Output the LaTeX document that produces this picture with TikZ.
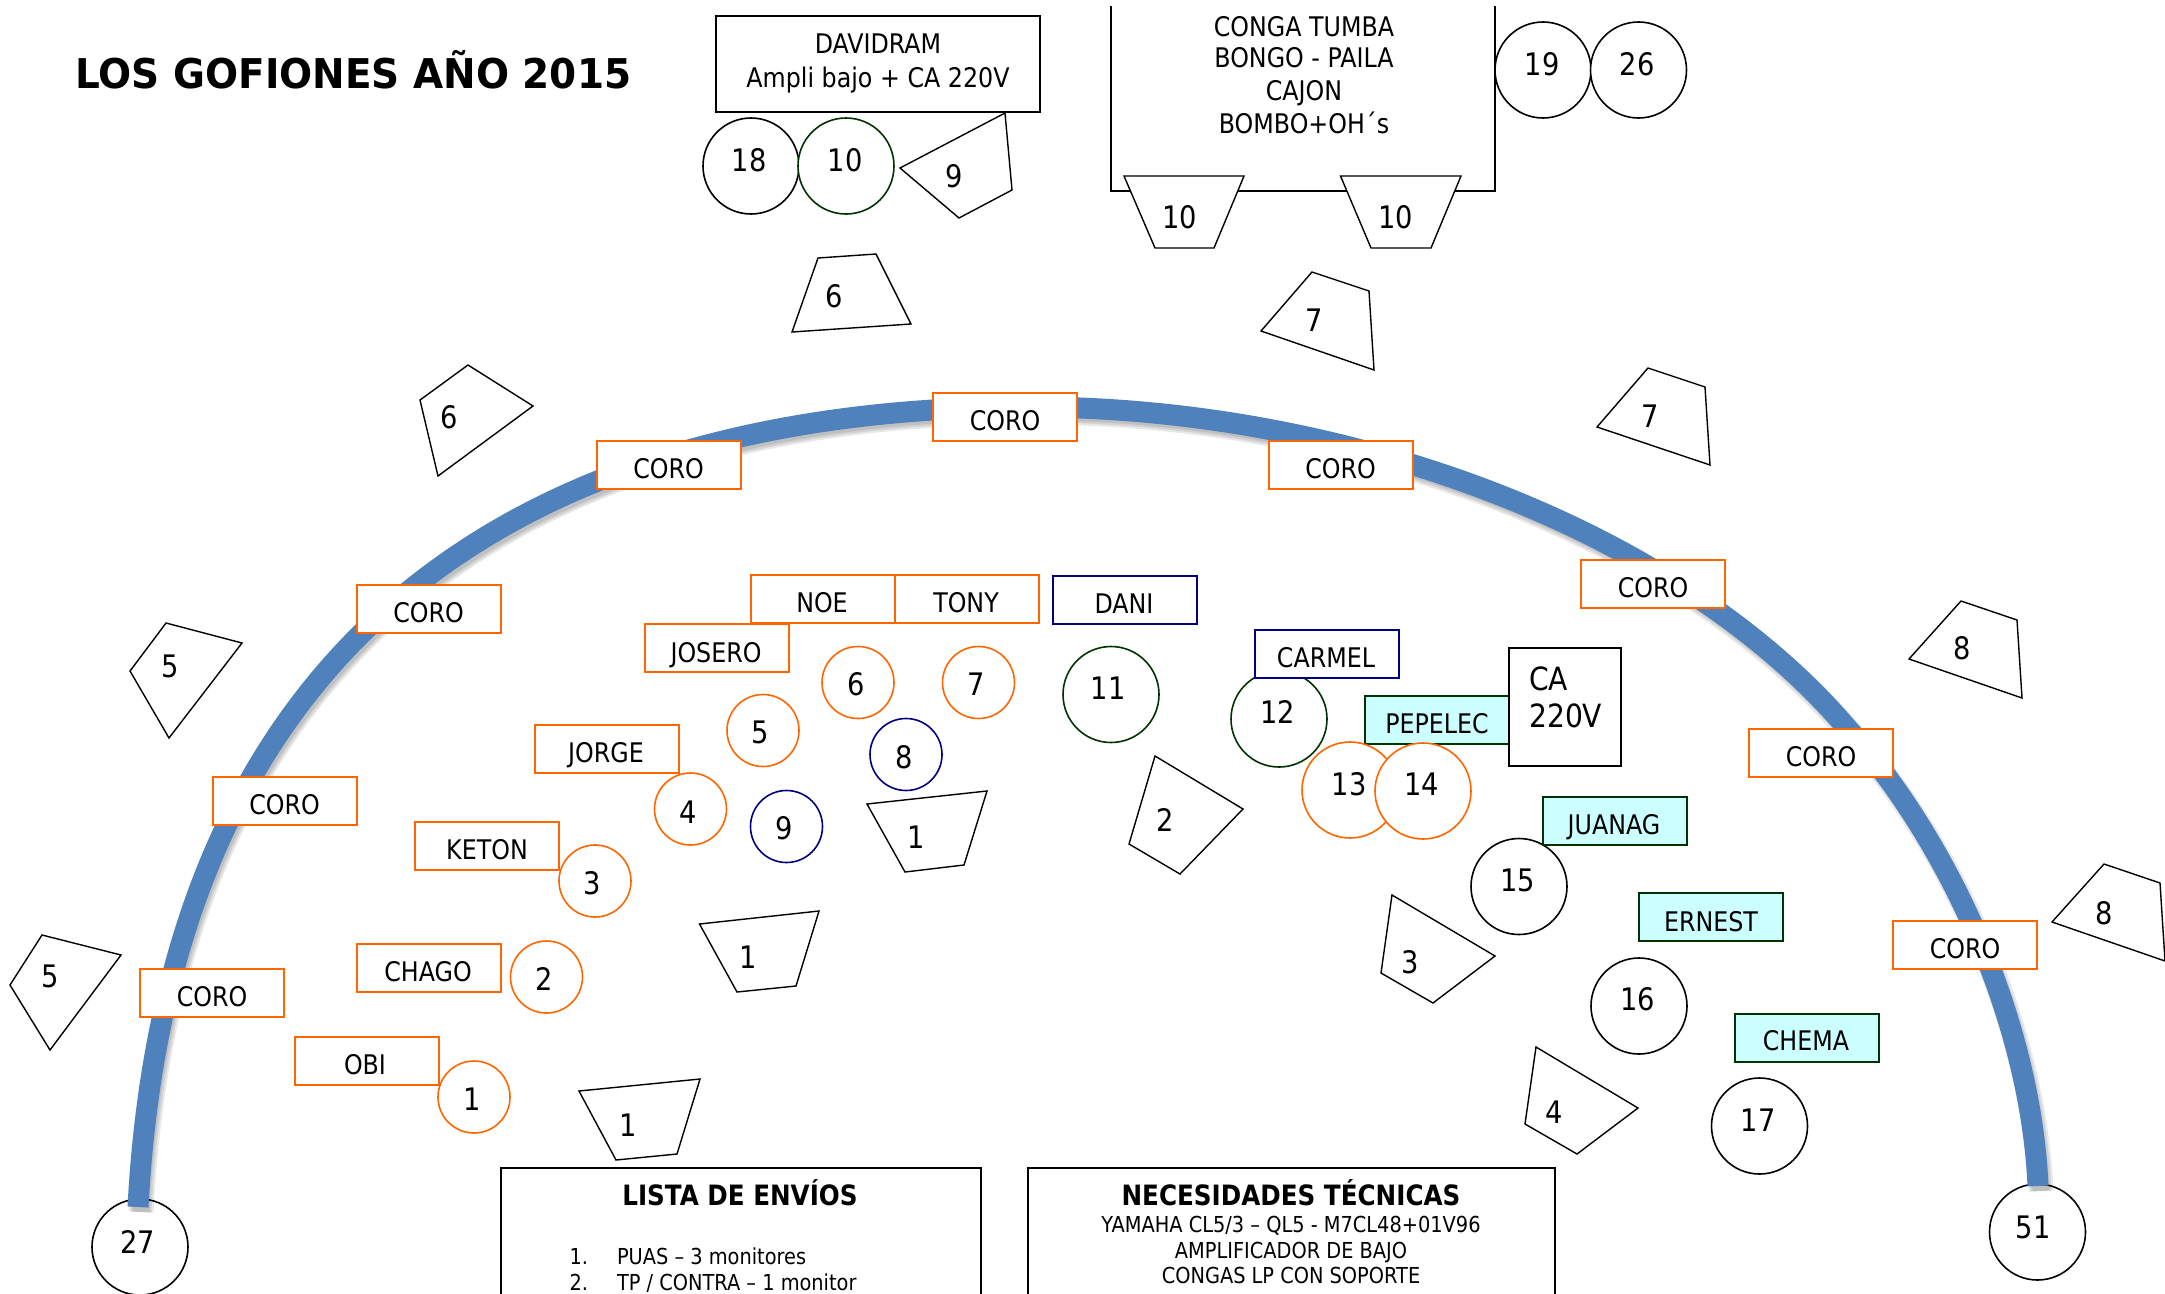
\documentclass[tikz,border=0pt]{standalone}
\usepackage{fontspec}
\setmainfont[FakeStretch=0.88]{DejaVu Sans}
\newfontfamily\widefont[FakeStretch=0.95]{DejaVu Sans}
\tikzset{
 x=1pt,y=-1pt,
 base/.style={inner sep=0pt,outer sep=0pt,font=\fontsize{27}{32}\selectfont},
 rbox/.style={draw,fill=white,line width=2pt,minimum width=#1,minimum height=48pt,inner sep=0pt},
 rbox/.default=144pt,
 oran/.style={rbox,draw=orangeC},
 navyb/.style={rbox,draw=navyC},
 aqua/.style={rbox,draw=greenC,fill=aquaC},
 circ/.style={circle,draw,fill=white,line width=1.6pt,minimum size=#1,inner sep=0pt},
 big/.style={circ=96pt},
 small/.style={circ=72pt},
 quad/.style={draw=black,line width=1.4pt,line join=miter,fill=white},
 lab/.style={base,text height=20pt,text depth=0pt},
 num/.style={inner sep=0pt,outer sep=0pt,font=\fontsize{31}{36}\selectfont,text height=23pt,text depth=0pt},
 small text/.style={inner sep=0pt,outer sep=0pt,font=\fontsize{22}{26}\selectfont,text height=16pt,text depth=0pt},
 head text/.style={inner sep=0pt,outer sep=0pt,font=\fontsize{28}{32}\selectfont\bfseries,text height=20pt,text depth=0pt},
 band/.style={line width=21pt,line cap=butt,line join=round,draw=bandC},
 shade/.style={line width=#1,line cap=butt,draw=black,opacity=.09},
 frame/.style={draw=black,line width=2pt,fill=white}
}
\definecolor{orangeC}{HTML}{FF6600}
\definecolor{navyC}{HTML}{000080}
\definecolor{greenC}{HTML}{003300}
\definecolor{aquaC}{HTML}{CCFFFF}
\definecolor{bandC}{HTML}{4F81BD}
\newcommand{\arcpath}{(138,1207) .. controls (170,600) and (570,407) .. (1030,407) .. controls (1350,407) and (1678,530) .. (1847,728) .. controls (1940,830) and (2030,1010) .. (2038,1186)}
\begin{document}
\begin{tikzpicture}
\useasboundingbox (0,0) rectangle (2165,1293);
\clip (0,0) rectangle (2165,1293);
% circles under the band
\node[big] (c27) at (140,1247) {};
\node[big] (c51) at (2037.5,1232) {};
\node[num] (l27) at (138,1242) {27};
\node[num] (l51) at (2033,1227) {51};
% band and shadow
\foreach \w in {25pt,21pt,17pt}{
 \draw[shade=\w,xshift=3pt,yshift=-5pt] \arcpath;
}
\draw[band] \arcpath;
% title
\node[inner sep=0pt,anchor=base west,font=\fontsize{41}{48}\selectfont\widefont\bfseries] (title) at (75,88) {LOS GOFIONES AÑO 2015};
% top boxes
\node[frame,minimum width=324pt,minimum height=96pt,inner sep=0pt] (dav) at (878,64) {};
\node[lab] (davt) at (878,43) {DAVIDRAM};
\node[lab] (davs) at (878,77) {Ampli bajo + CA 220V};
\draw[line width=2pt] (1111,6) -- (1111,191) -- (1495,191) -- (1495,6);
\node[lab] (cg1) at (1304,26) {CONGA TUMBA};
\node[lab] (cg2) at (1304,57) {BONGO - PAILA};
\node[lab] (cg3) at (1304,90) {CAJON};
\node[lab] (cg4) at (1304,123) {BOMBO+OH´s};
% top circles
\node[big] (c18) at (751,166) {};
\node[big,draw=greenC] (c10) at (846,166) {};
\node[num] at (749,160) {18};
\node[num] at (845,160) {10};
\node[big] (c19) at (1543,70) {};
\node[big] (c26) at (1638.5,70) {};
\node[num] at (1542,64) {19};
\node[num] at (1637,64) {26};
% wedges
\draw[quad] (1005,113) -- (1012,190) -- (959,218) -- (900,168) -- cycle;
\node[num] at (954,176) {9};
\draw[quad] (818,258) -- (876,254) -- (911,324) -- (792,332) -- cycle;
\node[num] at (834,296) {6};
\draw[quad] (468,365) -- (533,406) -- (438,476) -- (420,400) -- cycle;
\node[num] at (449,417) {6};
\draw[quad] (1124,176) -- (1244,176) -- (1214,248) -- (1155,248) -- cycle;
\node[num] at (1179.5,217) {10};
\draw[quad] (1340.5,176) -- (1461,176) -- (1431,248) -- (1371,248) -- cycle;
\node[num] at (1395.5,217) {10};
\draw[quad] (1312,272) -- (1369,291) -- (1374,370) -- (1261,331) -- cycle;
\node[num] at (1314,320) {7};
\draw[quad] (1648,368) -- (1705,387) -- (1710,465) -- (1597,427) -- cycle;
\node[num] at (1650,416) {7};
\draw[quad] (1961,601) -- (2017,620) -- (2022,698) -- (1909,659) -- cycle;
\node[num] at (1962,648) {8};
\draw[quad] (2104,864) -- (2160,883) -- (2165,961) -- (2052,922) -- cycle;
\node[num] at (2104.6,913) {8};
\draw[quad] (166,623) -- (242,643) -- (169,738) -- (130,671) -- cycle;
\node[num] at (170,666) {5};
\draw[quad] (42,935) -- (121,955) -- (50,1050) -- (10,985) -- cycle;
\node[num] at (50,976) {5};
\draw[quad] (867,804) -- (987,791) -- (964,865) -- (905,872) -- cycle;
\node[num] at (916,837) {1};
\draw[quad] (699.5,924) -- (819,911) -- (796,986) -- (737,992) -- cycle;
\node[num] at (748.5,957) {1};
\draw[quad] (579,1091) -- (700,1079) -- (677,1154) -- (616,1160) -- cycle;
\node[num] at (628,1125) {1};
\draw[quad] (1155,756) -- (1243,809) -- (1180,874) -- (1129,844) -- cycle;
\node[num] at (1165,820) {2};
\draw[quad] (1392,895) -- (1495,956) -- (1433,1003) -- (1381,973) -- cycle;
\node[num] at (1410,962) {3};
\draw[quad] (1536,1047) -- (1638,1108) -- (1577,1154) -- (1525,1124) -- cycle;
\node[num] at (1554,1112) {4};
% CORO boxes
\foreach \n/\x/\y in {a/1005/417,b/668.5/465,c/1340.5/465,d/1653/584,e/1821/752.5,f/1965/945,g/428.5/608.5,h/284.5/801,i/212/992.5}{
 \node[oran,base] (coro\n) at (\x,\y) {};
 \node[lab] at (\x,\y+3.5) {CORO};
}
% musicians
\node[small,draw=orangeC] (m1) at (474,1097) {};
\node[oran] (obi) at (366.5,1061) {};
\node[lab] at (365,1064) {OBI};
\node[num] at (472,1099) {1};
\node[small,draw=orangeC] (m2) at (546.5,977) {};
\node[oran] (chago) at (428.5,968) {};
\node[lab] at (428,971) {CHAGO};
\node[num] at (544,979) {2};
\node[small,draw=orangeC] (m3) at (595,881) {};
\node[oran] (keton) at (487,846) {};
\node[lab] at (487,849) {KETON};
\node[num] at (592,883) {3};
\node[small,draw=orangeC] (m4) at (690.5,809) {};
\node[oran] (jorge) at (607,749) {};
\node[lab] at (606,752) {JORGE};
\node[num] at (688,812) {4};
\node[small,draw=orangeC] (m5) at (763,730.5) {};
\node[num] at (760,732) {5};
\node[small,draw=orangeC] (m6) at (858,682.5) {};
\node[num] at (856,684) {6};
\node[small,draw=orangeC] (m7) at (978.5,682.5) {};
\node[num] at (976.5,684) {7};
\node[small,draw=navyC] (m8) at (906,754.5) {};
\node[num] at (904,757) {8};
\node[small,draw=navyC] (m9) at (786.5,826.5) {};
\node[num] at (784,828) {9};
\node[oran] (noe) at (823,599) {};
\node[oran] (tony) at (967,599) {};
\node[oran] (josero) at (717,648) {};
\node[navyb] (dani) at (1124.5,600) {};
\node[lab] at (822,602) {NOE};
\node[lab] at (966,602) {TONY};
\node[lab] at (716,652) {JOSERO};
\node[lab] at (1124,603) {DANI};
\node[big,draw=greenC] (m11) at (1111,694.5) {};
\node[num] at (1108,688) {11};
\node[big,draw=greenC] (m12) at (1279,719) {};
\node[navyb] (carmel) at (1327,653.5) {};
\node[lab] at (1326,657) {CARMEL};
\node[num] at (1277.5,712) {12};
\node[aqua] (pepelec) at (1437,720) {};
\node[lab] at (1437,723) {PEPELEC};
\node[frame,minimum width=112pt,minimum height=118pt,inner sep=0pt] (ca) at (1565,707) {};
\node[inner sep=0pt,anchor=west,font=\fontsize{32}{38}\selectfont,text height=23pt,text depth=0pt] at (1529,679) {CA};
\node[inner sep=0pt,anchor=west,font=\fontsize{32}{38}\selectfont,text height=23pt,text depth=0pt] at (1529,716) {220V};
\node[big,draw=orangeC] (m13) at (1350,790) {};
\node[big,draw=orangeC] (m14) at (1423,791) {};
\node[num] at (1349,784) {13};
\node[num] at (1421.5,784) {14};
\node[big] (m15) at (1519,886.5) {};
\node[aqua] (juanag) at (1615,821) {};
\node[lab] at (1614,824) {JUANAG};
\node[num] at (1517.5,880) {15};
\node[aqua] (ernest) at (1711,917) {};
\node[lab] at (1711,921) {ERNEST};
\node[big] (m16) at (1639,1006) {};
\node[num] at (1637.5,999) {16};
\node[aqua] (chema) at (1807,1037.5) {};
\node[lab] at (1806,1040) {CHEMA};
\node[big] (m17) at (1759.5,1126) {};
\node[num] at (1758,1120) {17};
% bottom boxes
\draw[frame] (501,1320) -- (501,1168) -- (981,1168) -- (981,1320);
\node[head text] at (740,1195) {LISTA DE ENVÍOS};
\node[small text,anchor=base west] at (569.5,1264) {1.};
\node[small text,anchor=base west] at (617,1264) {PUAS – 3 monitores};
\node[small text,anchor=base west] at (569.5,1290) {2.};
\node[small text,anchor=base west] at (617,1290) {TP / CONTRA – 1 monitor};
\draw[frame] (1028,1320) -- (1028,1168) -- (1555,1168) -- (1555,1320);
\node[head text] at (1291,1195) {NECESIDADES TÉCNICAS};
\node[small text] at (1291,1224) {YAMAHA CL5/3 – QL5 - M7CL48+01V96};
\node[small text] at (1291,1250) {AMPLIFICADOR DE BAJO};
\node[small text] at (1291,1275) {CONGAS LP CON SOPORTE};
\end{tikzpicture}
\end{document}
